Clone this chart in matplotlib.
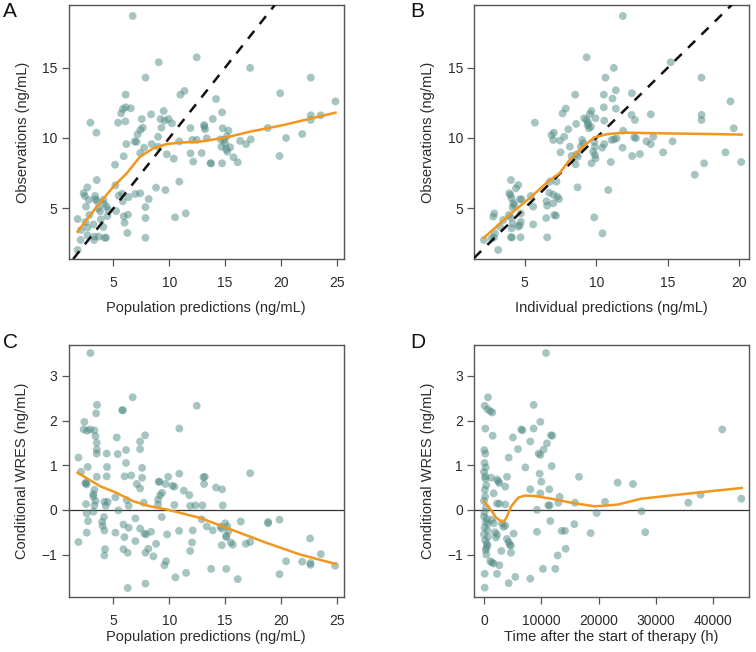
import numpy as np
import matplotlib
matplotlib.use("Agg")
import matplotlib.pyplot as plt

plt.rcParams['font.family'] = ['Liberation Sans', 'DejaVu Sans']

# ---- Panel A: observations vs population predictions ----
pred_a = [6.73, 9.06, 12.46, 17.24, 7.87, 22.67, 6.1, 11.36, 11.0, 14.19, 19.93, 24.88,
          2.94, 3.48, 5.69, 6.1, 6.55, 5.85, 6.07, 5.42, 7.54, 7.63, 8.37, 9.5, 9.22, 9.94,
          10.24, 7.16, 7.42, 6.9, 7.07, 6.16, 7.75, 7.4, 5.92, 5.15, 8.43, 9.0, 9.0, 9.78,
          10.4, 10.9, 11.9, 11.9, 12.15, 12.46, 12.07, 13.12, 13.2, 13.36, 12.9, 13.9, 13.69,
          14.73, 14.79, 14.67, 14.73, 15.16, 15.3, 14.9, 15.2, 15.45, 15.75, 16.13, 16.34,
          16.88, 17.3, 18.82, 19.87, 20.46, 21.9, 22.67, 22.67, 23.56, 5.18, 8.82, 9.66,
          10.9, 10.52, 11.48, 8.16, 7.87, 7.87, 7.87, 7.4, 6.96, 6.36, 5.84, 5.78, 5.48,
          5.24, 5.92, 6.0, 6.25, 6.3, 3.51, 2.67, 2.34, 2.43, 2.79, 2.55, 1.8, 2.1, 1.8,
          2.07, 2.49, 2.67, 2.85, 3.36, 3.39, 3.54, 3.81, 3.87, 3.21, 3.27, 3.27, 3.69,
          4.1, 4.16, 4.1, 4.22, 4.34, 4.46, 4.55, 4.4, 3.66, 2.67, 9.3, 9.6, 13.15, 15.0,
          15.1, 14.6, 13.75]
obs_a = [18.67, 15.38, 15.73, 14.98, 14.29, 14.29, 13.08, 13.34, 13.08, 12.77, 13.18, 12.6,
         11.09, 10.38, 11.75, 12.18, 12.11, 12.06, 11.18, 11.09, 11.35, 10.73, 11.68, 11.92,
         11.35, 11.35, 11.04, 10.26, 10.57, 9.76, 9.72, 9.57, 9.31, 8.93, 8.7, 8.1, 9.57,
         10.09, 9.38, 8.84, 8.53, 9.76, 10.71, 8.91, 8.32, 9.86, 9.86, 10.92, 10.62, 9.98,
         8.93, 11.35, 8.2, 11.82, 10.69, 9.38, 8.2, 10.12, 10.52, 9.86, 9.03, 9.34, 8.63,
         8.27, 9.79, 9.57, 9.9, 10.71, 8.72, 10.0, 10.28, 11.61, 11.28, 11.61, 6.64, 6.47,
         6.3, 6.9, 4.36, 4.64, 5.66, 5.09, 4.31, 2.91, 6.07, 6.02, 5.8, 5.5, 6.04, 5.9,
         4.81, 4.43, 3.98, 3.25, 4.55, 7.01, 6.49, 6.09, 5.88, 5.6, 5.12, 4.24, 3.46, 2.04,
         2.75, 4.03, 3.63, 4.53, 5.88, 5.64, 5.5, 4.79, 4.22, 3.86, 2.99, 2.75, 2.99,
         5.6, 5.31, 3.67, 2.91, 2.91, 4.45, 4.88, 5.12, 5.0, 3.08, 10.73, 11.23, 10.8, 9.6,
         9.2, 9.9, 8.2]
smooth_a_x = [1.8, 3.51, 5.0, 6.19, 7.39, 8.58, 9.78, 10.97, 12.76, 15.16, 17.24, 20.22, 24.88]
smooth_a_y = [3.34, 5.12, 6.54, 7.49, 8.67, 9.27, 9.57, 9.67, 9.74, 10.05, 10.45, 10.92, 11.8]

# ---- Panel B: observations vs individual predictions ----
ipred_b = [11.86, 9.33, 11.23, 10.65, 15.2, 17.35, 8.53, 10.53, 11.37, 11.14, 12.49, 19.37,
           11.37, 10.53, 9.67, 9.56, 9.95, 9.16, 9.33, 9.44, 9.49, 9.63, 9.4, 8.6, 10.56,
           12.47, 12.7, 13.81, 17.35, 17.35, 11.88, 12.65, 12.77, 13.98, 13.51, 13.81, 15.33,
           14.67, 13.05, 12.51, 11.84, 11.07, 11.26, 11.42, 10.42, 10.56, 11.02, 9.86, 9.91,
           9.79, 9.91, 9.95, 9.67, 9.02, 9.09, 8.93, 8.63, 8.56, 10.84, 8.7, 9.86, 10.44,
           16.88, 17.53, 19.02, 19.6, 20.12, 5.72, 7.88, 7.65, 8.05, 7.05, 6.88, 7.0, 7.47,
           7.77, 7.51, 8.16, 8.28, 6.77, 7.23, 6.72, 7.0, 7.28, 7.4, 6.53, 6.58, 7.0, 7.07,
           7.19, 6.51, 6.58, 5.6, 5.6, 5.44, 4.67, 4.79, 4.74, 4.72, 4.56, 4.67, 4.28, 4.16,
           4.05, 4.56, 4.4, 3.93, 4.02, 4.09, 4.21, 3.9, 4.02, 4.16, 4.09, 4.05, 4.12, 4.74,
           3.51, 3.28, 2.88, 2.81, 2.93, 2.86, 3.16, 2.16, 2.7, 8.72]
obs_b = [18.67, 15.73, 14.98, 14.29, 15.38, 14.29, 13.08, 13.08, 13.39, 12.8, 13.18, 12.6,
         12.09, 12.18, 11.92, 11.7, 11.4, 11.4, 11.28, 11.09, 10.69, 10.8, 10.92, 11.0, 11.23,
         11.64, 11.28, 11.68, 11.64, 11.28, 10.52, 10.05, 9.98, 10.09, 9.76, 9.57, 9.76,
         8.98, 8.86, 8.72, 9.31, 9.86, 9.9, 9.98, 9.31, 9.57, 8.29, 9.74, 9.38, 9.03, 8.79,
         8.55, 8.2, 9.86, 9.62, 9.38, 8.84, 8.13, 6.3, 6.49, 4.36, 3.22, 7.39, 8.2, 8.98,
         10.69, 8.29, 11.09, 12.09, 11.75, 10.62, 10.38, 10.21, 9.86, 9.81, 10.09, 8.98,
         9.38, 8.72, 6.9, 6.9, 6.11, 5.97, 5.83, 5.66, 5.5, 5.19, 5.36, 4.53, 4.48, 4.31,
         2.94, 5.12, 3.86, 5.88, 5.64, 5.64, 4.64, 2.94, 3.7, 3.79, 5.24, 5.07, 7.01, 6.66,
         6.42, 6.07, 5.95, 5.71, 5.36, 4.53, 4.36, 3.93, 3.58, 2.94, 2.94, 4.05, 4.17, 3.7,
         4.64, 4.41, 3.22, 2.94, 2.04, 2.75, 2.87, 8.67]
smooth_b_x = [2.16, 4.07, 5.47, 6.63, 7.1, 7.44, 8.14, 9.07, 9.88, 10.81, 11.98, 14.53, 18.02, 20.16]
smooth_b_y = [2.91, 4.64, 5.83, 6.9, 7.25, 7.49, 8.44, 9.38, 10.05, 10.28, 10.38, 10.33, 10.28, 10.24]

# ---- Panel C: CWRES vs population predictions ----
pred_c = [2.94, 6.73, 5.78, 5.85, 3.54, 3.45, 12.46, 10.9, 2.4, 2.34, 2.64, 2.91, 3.3, 3.39,
          3.51, 3.51, 3.51, 5.3, 7.84, 7.39, 7.39, 4.4, 5.39, 6.13, 1.87, 2.7, 2.49, 4.43,
          6.13, 7.57, 2.1, 2.55, 2.6, 3.51, 4.4, 6.0, 6.6, 7.57, 7.09, 7.39, 3.3, 3.2, 3.4,
          3.3, 3.2, 2.55, 4.2, 4.49, 4.31, 5.18, 6.19, 6.37, 7.72, 2.61, 3.21, 5.45, 2.73,
          2.61, 3.99, 4.04, 4.19, 4.16, 1.87, 5.18, 5.9, 5.99, 6.37, 6.97, 6.97, 7.39, 7.78,
          7.93, 8.37, 4.25, 4.19, 5.9, 6.28, 7.87, 8.13, 8.58, 8.82, 6.28, 7.87, 9.57, 9.72,
          9.81, 10.55, 11.51, 10.88, 11.8, 11.87, 12.1, 12.04, 11.87, 12.34, 11.3, 10.46,
          10.9, 9.9, 9.06, 9.12, 9.18, 9.36, 9.66, 9.0, 9.33, 10.28, 10.46, 9.0, 13.06, 13.18,
          13.12, 14.19, 14.73, 14.79, 17.24, 12.97, 12.9, 13.36, 13.9, 14.6, 14.7, 15.0,
          15.1, 15.3, 15.2, 15.1, 14.7, 15.51, 15.69, 16.4, 16.85, 17.24, 18.85, 18.85,
          19.87, 22.61, 23.57, 22.64, 22.64, 21.9, 20.46, 19.87, 24.85, 13.75, 15.1, 16.13]
cwres_c = [3.51, 2.52, 2.23, 2.23, 2.35, 2.16, 2.33, 1.82, 1.97, 1.8, 1.77, 1.8, 1.78, 1.65,
           1.5, 1.35, 1.26, 1.62, 1.67, 1.53, 1.36, 1.26, 1.25, 1.34, 1.17, 0.96, 0.6, 0.96,
           1.05, 0.94, 0.85, 0.6, 0.57, 0.74, 0.75, 0.75, 0.77, 0.72, 0.58, 0.48, 0.45, 0.3,
           0.2, 0.1, 0.35, 0.13, 0.18, 0.18, 0.09, 0.28, 0.22, 0.09, 0.16, -0.08, -0.04,
           -0.01, -0.25, -0.51, -0.27, -0.36, -0.46, -0.16, -0.72, -0.51, -0.33, -0.61, -0.4,
           -0.19, -0.7, -0.42, -0.53, -0.55, -0.49, -0.88, -1.02, -0.88, -0.96, -0.96, -0.87,
           -1.04, -0.76, -1.75, -1.65, -1.24, -1.15, -0.55, -1.51, -1.41, -0.47, 0.33, 0.09,
           -0.46, -0.73, -0.92, 0.1, 0.43, 0.11, 0.81, 0.74, 0.63, 0.63, 0.33, 0.38, 0.58,
           0.23, -0.16, 0.54, 0.52, 0.12, 0.73, 0.74, 0.58, 0.5, 0.46, 0.1, 0.82, 0.1, -0.21,
           -0.37, -0.46, -0.38, -0.42, -0.3, -0.58, -0.48, -0.37, -0.61, -0.79, -0.73, -0.78,
           -0.26, -0.76, -0.72, -0.27, -0.3, -0.22, -0.64, -0.99, -1.19, -1.23, -1.16, -1.15,
           -1.44, -1.25, -1.32, -1.32, -1.55]
smooth_c_x = [1.8, 3.81, 5.3, 6.79, 8.28, 9.93, 12.76, 15.75, 18.73, 21.72, 24.88]
smooth_c_y = [0.83, 0.53, 0.38, 0.19, 0.08, 0.0, -0.18, -0.46, -0.74, -1.0, -1.21]

# ---- Panel D: CWRES vs time ----
time_d = [700, 120, 640, 1100, 1450, 230, 1510, 60, 230, 100, 300, 0, 200, 1220, 250, 400,
          150, 2270, 2680, 2500, 3720, 4020, 1690, 2270, 2680, 3720, 200, 0, 350, 100,
          0, 500, 300, 700, 100, 600, 0, 700, 200, 500, 400, 300, 600, 1400, 1700, 1900,
          2270, 2100, 3140, 3400, 3720, 4000, 4300, 4500, 4700, 5180, 3030, 4710, 1100,
          1400, 1690, 2680, 2270, 120, 120, 4310, 5470, 400, 8090, 10300, 9250, 10830, 8670,
          9840, 6520, 6700, 5060, 5940, 8090, 8670, 4310, 7220, 9550, 9840, 10420, 11000,
          11700, 9720, 10010, 8090, 11410, 9840, 9250, 11930, 11820, 16590, 23340, 26020,
          13210, 12980, 15890, 21130, 11470, 11230, 19670, 27530, 11580, 13560, 14140,
          15770, 18630, 28170, 14260, 12860, 12460, 35680, 37830, 41620, 44940]
cwres_d = [2.52, 2.33, 2.25, 2.21, 2.18, 1.82, 1.66, 1.34, 1.26, 1.05, 0.95, 0.85, 0.75,
           0.72, 0.7, 0.55, 0.45, 0.68, 0.6, 0.64, 0.52, 0.74, 0.37, 0.14, 0.14, 0.12, 0.3,
           0.2, 0.05, -0.05, -0.15, -0.2, -0.28, -0.3, -0.4, -0.45, -0.55, -0.6, -0.68,
           -0.75, -0.85, -0.9, -0.8, -0.22, -0.3, -0.5, -0.55, -0.62, -0.3, -0.38, -0.35,
           -0.65, -0.72, -0.78, -0.8, -0.53, -0.92, -0.96, -1.15, -1.18, -1.2, -1.24, -1.43,
           -1.43, -1.74, -1.64, -1.5, -1.0, -1.54, -1.32, -0.49, 3.51, 2.35, 1.97, 1.8,
           1.78, 1.62, 1.36, 1.53, 1.82, 1.17, 0.95, 1.26, 1.23, 1.35, 1.49, 1.67, 0.81,
           0.63, 0.46, 0.46, 0.37, 0.0, 1.66, 0.98, 0.74, 0.61, 0.58, 0.29, 0.16, 0.16,
           0.18, 0.1, 0.1, -0.07, -0.03, -0.25, -0.47, -0.47, -0.32, -0.52, -0.5, -0.87,
           -1.02, -1.32, 0.16, 0.34, 1.8, 0.25]
smooth_d_x = [0, 990, 2150, 3320, 3900, 4770, 5940, 7100, 8850, 11760, 15250, 19320, 21650,
              23400, 27470, 33880, 39700, 45050]
smooth_d_y = [0.19, 0.04, -0.18, -0.28, -0.18, 0.08, 0.27, 0.32, 0.31, 0.25, 0.16, 0.08,
              0.1, 0.12, 0.25, 0.34, 0.42, 0.49]

pt_color = '#4f8a85'
line_color = '#f2961e'
spine_color = '#555555'
text_color = '#2b2b2b'

W, H = 756, 652
fig = plt.figure(figsize=(W / 100, H / 100), dpi=100)


def make_ax(left, top, right, bottom):
    ax = fig.add_axes([left / W, 1 - bottom / H, (right - left) / W, (bottom - top) / H])
    for s in ax.spines.values():
        s.set_color(spine_color)
        s.set_linewidth(1.0)
    ax.tick_params(direction='out', length=5, width=0.9, color=spine_color,
                   labelsize=10, labelcolor=text_color)
    ax.tick_params(axis='x', pad=7)
    ax.tick_params(axis='y', pad=3)
    return ax


axA = make_ax(68.5, 5, 343.5, 259)
axB = make_ax(474, 5, 748.5, 259)
axC = make_ax(68.5, 345, 343.5, 597)
axD = make_ax(474, 345, 748.5, 597)

scatter_kw = dict(s=32, color=pt_color, alpha=0.5, edgecolors='none', zorder=2)
label_kw = dict(fontsize=10.5, color=text_color)

# A
axA.scatter(pred_a, obs_a, **scatter_kw)
axA.axline((0, 0), slope=1, color='#111111', lw=1.8, ls=(0, (4, 3.5)), zorder=3)
axA.plot(smooth_a_x, smooth_a_y, color=line_color, lw=1.8, zorder=4)
axA.set_xlim(0.98, 25.6)
axA.set_ylim(1.4, 19.45)
axA.set_xticks([5, 10, 15, 20, 25])
axA.set_yticks([5, 10, 15])
axA.set_xlabel('Population predictions (ng/mL)', labelpad=8, **label_kw)
axA.set_ylabel('Observations (ng/mL)', labelpad=9, **label_kw)

# B
axB.scatter(ipred_b, obs_b, **scatter_kw)
axB.axline((0, 0), slope=1, color='#111111', lw=1.8, ls=(0, (4, 3.5)), zorder=3)
axB.plot(smooth_b_x, smooth_b_y, color=line_color, lw=1.8, zorder=4)
axB.set_xlim(1.47, 20.63)
axB.set_ylim(1.4, 19.45)
axB.set_xticks([5, 10, 15, 20])
axB.set_yticks([5, 10, 15])
axB.set_xlabel('Individual predictions (ng/mL)', labelpad=8, **label_kw)
axB.set_ylabel('Observations (ng/mL)', labelpad=9, **label_kw)

# C
axC.scatter(pred_c, cwres_c, **scatter_kw)
axC.axhline(0, color='#333333', lw=0.9, zorder=1)
axC.plot(smooth_c_x, smooth_c_y, color=line_color, lw=1.8, zorder=4)
axC.set_xlim(0.98, 25.6)
axC.set_ylim(-1.95, 3.69)
axC.set_xticks([5, 10, 15, 20, 25])
axC.set_yticks([-1, 0, 1, 2, 3])
axC.set_yticklabels(['\u22121', '0', '1', '2', '3'])
axC.set_xlabel('Population predictions (ng/mL)', labelpad=2, **label_kw)
axC.set_ylabel('Conditional WRES (ng/mL)', labelpad=9, **label_kw)

# D
axD.scatter(time_d, cwres_d, **scatter_kw)
axD.axhline(0, color='#333333', lw=0.9, zorder=1)
axD.plot(smooth_d_x, smooth_d_y, color=line_color, lw=1.8, zorder=4)
axD.set_xlim(-1746, 46200)
axD.set_ylim(-1.95, 3.69)
axD.set_xticks([0, 10000, 20000, 30000, 40000])
axD.set_yticks([-1, 0, 1, 2, 3])
axD.set_yticklabels(['\u22121', '0', '1', '2', '3'])
axD.set_xlabel('Time after the start of therapy (h)', labelpad=2, **label_kw)
axD.set_ylabel('Conditional WRES (ng/mL)', labelpad=9, **label_kw)

# panel letters
for letter, (px, py) in zip('ABCD', [(3, 2), (410, 2), (3, 333), (410, 333)]):
    fig.text(px / W, 1 - py / H, letter, fontsize=15, ha='left', va='top', color='#111111')

fig.savefig('out.png', dpi=100)
